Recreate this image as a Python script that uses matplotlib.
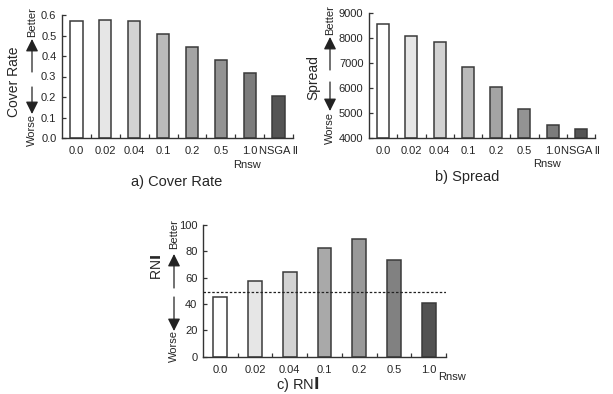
import matplotlib
matplotlib.use("Agg")
import matplotlib.pyplot as plt
from matplotlib.patches import FancyArrowPatch

plt.rcParams['font.family'] = ['Liberation Sans', 'DejaVu Sans']

W, H = 613, 394

cats_ab = ["0.0", "0.02", "0.04", "0.1", "0.2", "0.5", "1.0", "NSGA\u2009Ⅱ"]
cover_rate = [0.572, 0.574, 0.569, 0.509, 0.445, 0.379, 0.317, 0.205]
spread = [8570, 8100, 7846, 6840, 6025, 5166, 4523, 4338]
colors_ab = ["#ffffff", "#e6e6e6", "#d2d2d2", "#bababa", "#a4a4a4", "#939393", "#7c7c7c", "#545454"]

cats_c = ["0.0", "0.02", "0.04", "0.1", "0.2", "0.5", "1.0"]
rni = [45.1, 57.5, 64.1, 82.8, 89.4, 73.7, 40.5]
colors_c = ["#ffffff", "#e6e6e6", "#d2d2d2", "#a9a9a9", "#999999", "#818181", "#525252"]
rni_ref = 49

TXT = "#262626"
FS = 8
fig = plt.figure(figsize=(W / 100, H / 100), dpi=100)


def px(x, y):
    return x / W, 1 - y / H


def make_ax(l, t, r, b):
    x0, y1 = px(l, t)
    x1, y0 = px(r, b)
    return fig.add_axes([x0, y0, x1 - x0, y1 - y0])


def style(ax, cats, vals, colors, ylim, yticks, ylabels, width):
    n = len(cats)
    x = list(range(n))
    ax.bar(x, [v - ylim[0] for v in vals], bottom=ylim[0], width=width, color=colors,
           edgecolor="#3a3a3a", linewidth=1.1, zorder=2)
    ax.set_xlim(-0.5, n - 0.5)
    ax.set_ylim(*ylim)
    ax.set_xticks(x)
    ax.set_xticklabels(cats, fontsize=FS)
    ax.set_xticks([i + 0.5 for i in range(n)], minor=True)
    ax.tick_params(axis='x', which='major', length=0, pad=6, colors=TXT)
    ax.tick_params(axis='x', which='minor', length=3, direction='in', color="#333333", width=0.9)
    ax.set_yticks(yticks)
    ax.set_yticklabels(ylabels, fontsize=FS)
    ax.tick_params(axis='y', which='major', length=3, direction='in', pad=4, color="#333333", width=0.9, labelcolor=TXT)
    for s in ("top", "right"):
        ax.spines[s].set_visible(False)
    for s in ("left", "bottom"):
        ax.spines[s].set_color("#333333")
        ax.spines[s].set_linewidth(1.0)
    ax.set_facecolor("none")


def side_label(xlab, xarrow, name, name_y, better_y, worse_y, up, down):
    fig.text(*px(xlab, name_y), name, rotation=90, ha='center', va='center', fontsize=10, color=TXT)
    fig.text(*px(xarrow, better_y), "Better", rotation=90, ha='center', va='center', fontsize=FS, color=TXT)
    fig.text(*px(xarrow, worse_y), "Worse", rotation=90, ha='center', va='center', fontsize=FS, color=TXT)
    for (ys, ye) in (up, down):
        a = FancyArrowPatch(px(xarrow, ys), px(xarrow, ye), transform=fig.transFigure,
                            arrowstyle='-|>,head_length=5,head_width=2.5', color="#222222",
                            linewidth=0.9, mutation_scale=1.5, shrinkA=0, shrinkB=0)
        fig.patches.append(a)


# a) Cover Rate
ax1 = make_ax(62, 15, 293, 138)
style(ax1, cats_ab, cover_rate, colors_ab, (0, 0.6), [0, 0.1, 0.2, 0.3, 0.4, 0.5, 0.6],
      ["0.0", "0.1", "0.2", "0.3", "0.4", "0.5", "0.6"], 0.42)
fig.text(*px(247, 165), "Rnsw", ha='center', va='center', fontsize=FS, color=TXT)
fig.text(*px(177, 182), "a) Cover Rate", ha='center', va='center', fontsize=10.5, color=TXT)
side_label(14, 32, "Cover Rate", 82, 22, 130, (72, 39), (87, 114))

# b) Spread
ax2 = make_ax(369, 13.3, 595, 137.7)
style(ax2, cats_ab, spread, colors_ab, (4000, 9000), [4000, 5000, 6000, 7000, 8000, 9000],
      ["4000", "5000", "6000", "7000", "8000", "9000"], 0.42)
fig.text(*px(547, 164), "Rnsw", ha='center', va='center', fontsize=FS, color=TXT)
fig.text(*px(467, 177), "b) Spread", ha='center', va='center', fontsize=10.5, color=TXT)
side_label(313, 330, "Spread", 78, 20, 128, (70, 37), (82, 111))

# c) RNI
ax3 = make_ax(203, 225, 446, 356.7)
style(ax3, cats_c, rni, colors_c, (0, 100), [0, 20, 40, 60, 80, 100],
      ["0", "20", "40", "60", "80", "100"], 0.4)
ax3.axhline(rni_ref, color="#222222", linestyle=(0, (2, 1.5)), linewidth=0.9, zorder=3)
fig.text(*px(452, 377), "Rnsw", ha='center', va='center', fontsize=FS, color=TXT)
fig.text(*px(298, 385), "c) RN$\\mathbf{I}$", ha='center', va='center', fontsize=10.5, color=TXT)
side_label(157, 174, "RN$\\mathbf{I}$", 267, 234, 346, (288, 254), (297, 331))

fig.savefig("out.png", dpi=100, facecolor="white")
